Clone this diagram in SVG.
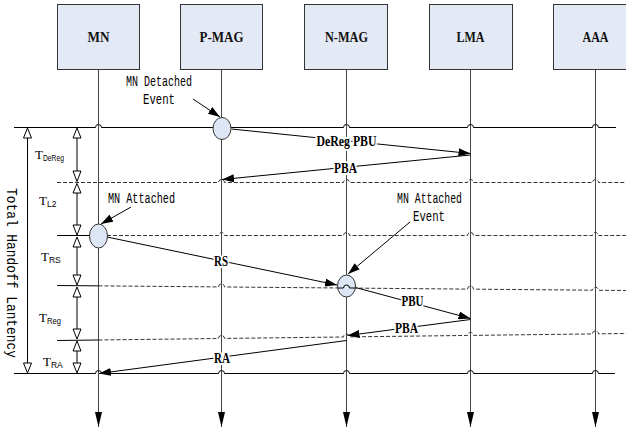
<svg xmlns="http://www.w3.org/2000/svg" width="626" height="431" viewBox="0 0 626 431">
  <style>
    .box { fill: #e4eaf5; stroke: #333; stroke-width: 1; }
    .boxtxt { font-family: "Liberation Serif", serif; font-weight: bold; font-size: 14px; fill: #111; text-anchor: middle; }
    .life { stroke: #444; stroke-width: 1; fill: none; }
    .solid { stroke: #000; stroke-width: 1; fill: none; }
    .dash { stroke: #333; stroke-width: 1; fill: none; stroke-dasharray: 4 2; }
    .msg { stroke: #000; stroke-width: 1; fill: none; marker-end: url(#ah); }
    .lbl { font-family: "Liberation Serif", serif; font-weight: bold; font-size: 14px; fill: #000; text-anchor: middle; stroke: #fff; stroke-width: 4px; paint-order: stroke; stroke-linejoin: round; }
    .note { font-family: "Liberation Mono", "DejaVu Sans Mono", monospace; font-size: 14.5px; fill: #000; }
    .evt { fill: #dde6f4; stroke: #333; stroke-width: 1; }
    .tri { fill: #fff; stroke: #000; stroke-width: 1; }
    .tl { font-family: "Liberation Serif", serif; font-size: 13px; fill: #000; }
    .sub { font-family: "Liberation Sans", sans-serif; font-size: 8.5px; }
  </style>
  <defs>
    <marker id="ah" markerWidth="12" markerHeight="8" refX="12" refY="4" orient="auto" markerUnits="userSpaceOnUse">
      <path d="M0,0 L12,4 L0,8 z" fill="#000"/>
    </marker>
    <marker id="ahl" markerWidth="15" markerHeight="8" refX="15" refY="4" orient="auto" markerUnits="userSpaceOnUse">
      <path d="M0,0.5 L15,4 L0,7.5 z" fill="#000"/>
    </marker>
  </defs>

  <!-- lifelines -->
  <g id="lifelines">
    <line class="life" x1="98.5" y1="69" x2="98.5" y2="427" marker-end="url(#ahl)"/>
    <line class="life" x1="221.5" y1="69" x2="221.5" y2="427" marker-end="url(#ahl)"/>
    <line class="life" x1="346.5" y1="69" x2="346.5" y2="427" marker-end="url(#ahl)"/>
    <line class="life" x1="470.5" y1="69" x2="470.5" y2="427" marker-end="url(#ahl)"/>
    <line class="life" x1="595.5" y1="69" x2="595.5" y2="427" marker-end="url(#ahl)"/>
  </g>

  <!-- entity boxes -->
  <g id="MN"><rect class="box" x="57.5" y="4.5" width="82" height="65"/><text class="boxtxt" x="98.5" y="41.5" textLength="22" lengthAdjust="spacingAndGlyphs">MN</text></g>
  <g id="P-MAG"><rect class="box" x="180.5" y="4.5" width="82" height="65"/><text class="boxtxt" x="221.5" y="41.5" textLength="44" lengthAdjust="spacingAndGlyphs">P-MAG</text></g>
  <g id="N-MAG"><rect class="box" x="304.5" y="4.5" width="83" height="65"/><text class="boxtxt" x="346.5" y="41.5" textLength="43" lengthAdjust="spacingAndGlyphs">N-MAG</text></g>
  <g id="LMA"><rect class="box" x="429.5" y="4.5" width="83" height="65"/><text class="boxtxt" x="470.5" y="41.5" textLength="28" lengthAdjust="spacingAndGlyphs">LMA</text></g>
  <g id="AAA"><rect class="box" x="553.5" y="4.5" width="83" height="65"/><text class="boxtxt" x="595.5" y="41.5" textLength="26" lengthAdjust="spacingAndGlyphs">AAA</text></g>

  <!-- time boundaries -->
  <g id="timelines">
    <path class="solid" d="M14,127.5 H95.5 a3,3 0 0 1 6,0 H343.5 a3,3 0 0 1 6,0 H467.5 a3,3 0 0 1 6,0 H592.5 a3,3 0 0 1 6,0 H616"/>
    <path class="dash" d="M57,182.5 H218.5 a3,3 0 0 1 6,0 H343.5 a3,3 0 0 1 6,0 H467.5 a3,3 0 0 1 6,0 H592.5 a3,3 0 0 1 6,0 H626"/>
    <path class="solid" d="M57,235.5 H90"/>
    <path class="dash" d="M107,235.5 H218.5 a3,3 0 0 1 6,0 H343.5 a3,3 0 0 1 6,0 H467.5 a3,3 0 0 1 6,0 H592.5 a3,3 0 0 1 6,0 H626"/>
    <path class="solid" d="M57,285.5 L98.5,285.86"/>
    <path class="dash" d="M98.5,285.86 L218.5,286.92 a3,3 0 0 1 6,0.05 L467.5,289.11 a3,3 0 0 1 6,0.05 L592.5,290.2 a3,3 0 0 1 6,0.06 L626,290.5"/>
    <path class="solid" d="M57,340.5 L98.5,340"/>
    <path class="dash" d="M98.5,340 L218.5,338.51 a3,3 0 0 1 6,-0.07 L343.5,336.98 a3,3 0 0 1 6,-0.08 L467.5,335.45 a3,3 0 0 1 6,-0.07 L592.5,333.91 a3,3 0 0 1 6,-0.07 L626,333.5"/>
    <path class="solid" d="M14,373.5 H95.5 a3,3 0 0 1 6,0 H218.5 a3,3 0 0 1 6,0 H343.5 a3,3 0 0 1 6,0 H467.5 a3,3 0 0 1 6,0 H592.5 a3,3 0 0 1 6,0 H615"/>
  </g>

  <!-- total latency span -->
  <g id="total-latency">
    <line class="solid" x1="27.5" y1="138" x2="27.5" y2="363"/>
    <polygon class="tri" points="27.5,128 23.5,138 31.5,138"/>
    <polygon class="tri" points="27.5,373 23.5,363 31.5,363"/>
    <text class="note" transform="translate(7,188) rotate(90)" textLength="170" lengthAdjust="spacingAndGlyphs">Total Handoff Lantency</text>
  </g>

  <!-- per-phase spans -->
  <g id="phase-spans">
    <line class="solid" x1="77" y1="138" x2="77" y2="171"/>
    <line class="solid" x1="77" y1="193" x2="77" y2="225"/>
    <line class="solid" x1="77" y1="247" x2="77" y2="275"/>
    <line class="solid" x1="77" y1="297" x2="77" y2="329"/>
    <line class="solid" x1="77" y1="351" x2="77" y2="363"/>
    <polygon class="tri" points="77,128 73,138 81,138"/>
    <polygon class="tri" points="77,181.5 73,171 81,171"/>
    <polygon class="tri" points="77,183.5 73,193 81,193"/>
    <polygon class="tri" points="77,235 73,225 81,225"/>
    <polygon class="tri" points="77,237 73,247 81,247"/>
    <polygon class="tri" points="77,285 73,275 81,275"/>
    <polygon class="tri" points="77,287 73,297 81,297"/>
    <polygon class="tri" points="77,339 73,329 81,329"/>
    <polygon class="tri" points="77,341 73,351 81,351"/>
    <polygon class="tri" points="77,373 73,363 81,363"/>
    <text class="tl" x="35" y="159">T<tspan class="sub" dy="2" textLength="21" lengthAdjust="spacingAndGlyphs">DeReg</tspan></text>
    <text class="tl" x="39" y="205">T<tspan class="sub" dy="2">L2</tspan></text>
    <text class="tl" x="41" y="261">T<tspan class="sub" dy="2">RS</tspan></text>
    <text class="tl" x="39" y="322">T<tspan class="sub" dy="2" textLength="14" lengthAdjust="spacingAndGlyphs">Reg</tspan></text>
    <text class="tl" x="43" y="366">T<tspan class="sub" dy="2">RA</tspan></text>
  </g>

  <!-- messages -->
  <g id="connectors">
    <line class="msg" x1="231.5" y1="129" x2="470.5" y2="153.5"/>
    <line class="msg" x1="470.5" y1="155" x2="222" y2="179.5"/>
    <line class="msg" x1="107" y1="237" x2="337" y2="285"/>
    <line class="msg" x1="355.5" y1="287.5" x2="470.5" y2="318.5"/>
    <line class="msg" x1="470.5" y1="319.5" x2="347.5" y2="335.5"/>
    <line class="msg" x1="346.5" y1="340.5" x2="99" y2="373.5"/>
    <line class="msg" x1="193" y1="99" x2="220" y2="117"/>
    <line class="msg" x1="131" y1="207" x2="101" y2="224"/>
    <line class="msg" x1="410" y1="222" x2="348" y2="274"/>
    <text class="lbl" x="346.5" y="146" textLength="60" lengthAdjust="spacingAndGlyphs">DeReg PBU</text>
    <text class="lbl" x="345.5" y="172.5" textLength="23" lengthAdjust="spacingAndGlyphs">PBA</text>
    <text class="lbl" x="221" y="266" textLength="14" lengthAdjust="spacingAndGlyphs">RS</text>
    <text class="lbl" x="412.5" y="306" textLength="22" lengthAdjust="spacingAndGlyphs">PBU</text>
    <text class="lbl" x="406.5" y="333" textLength="23" lengthAdjust="spacingAndGlyphs">PBA</text>
    <text class="lbl" x="222" y="363" textLength="16" lengthAdjust="spacingAndGlyphs">RA</text>
  </g>

  <!-- events -->
  <g id="detach-event">
    <ellipse class="evt" cx="222" cy="128.5" rx="9" ry="11"/>
    <text class="note" x="126" y="86" textLength="66" lengthAdjust="spacingAndGlyphs">MN Detached</text>
    <text class="note" x="143" y="104" textLength="32" lengthAdjust="spacingAndGlyphs">Event</text>
  </g>
  <g id="attach-event-mn">
    <ellipse class="evt" cx="98.5" cy="236" rx="9" ry="12"/>
    <text class="note" x="108" y="203" textLength="67" lengthAdjust="spacingAndGlyphs">MN Attached</text>
  </g>
  <g id="attach-event-nmag">
    <ellipse class="evt" cx="346.5" cy="286" rx="9" ry="11"/>
    <path class="solid" d="M338,288 H343.5 a3,3 0 0 1 6,0 H355" stroke-width="0.8"/>
    <text class="note" x="397" y="203" textLength="65" lengthAdjust="spacingAndGlyphs">MN Attached</text>
    <text class="note" x="413" y="221" textLength="32" lengthAdjust="spacingAndGlyphs">Event</text>
  </g>
</svg>
